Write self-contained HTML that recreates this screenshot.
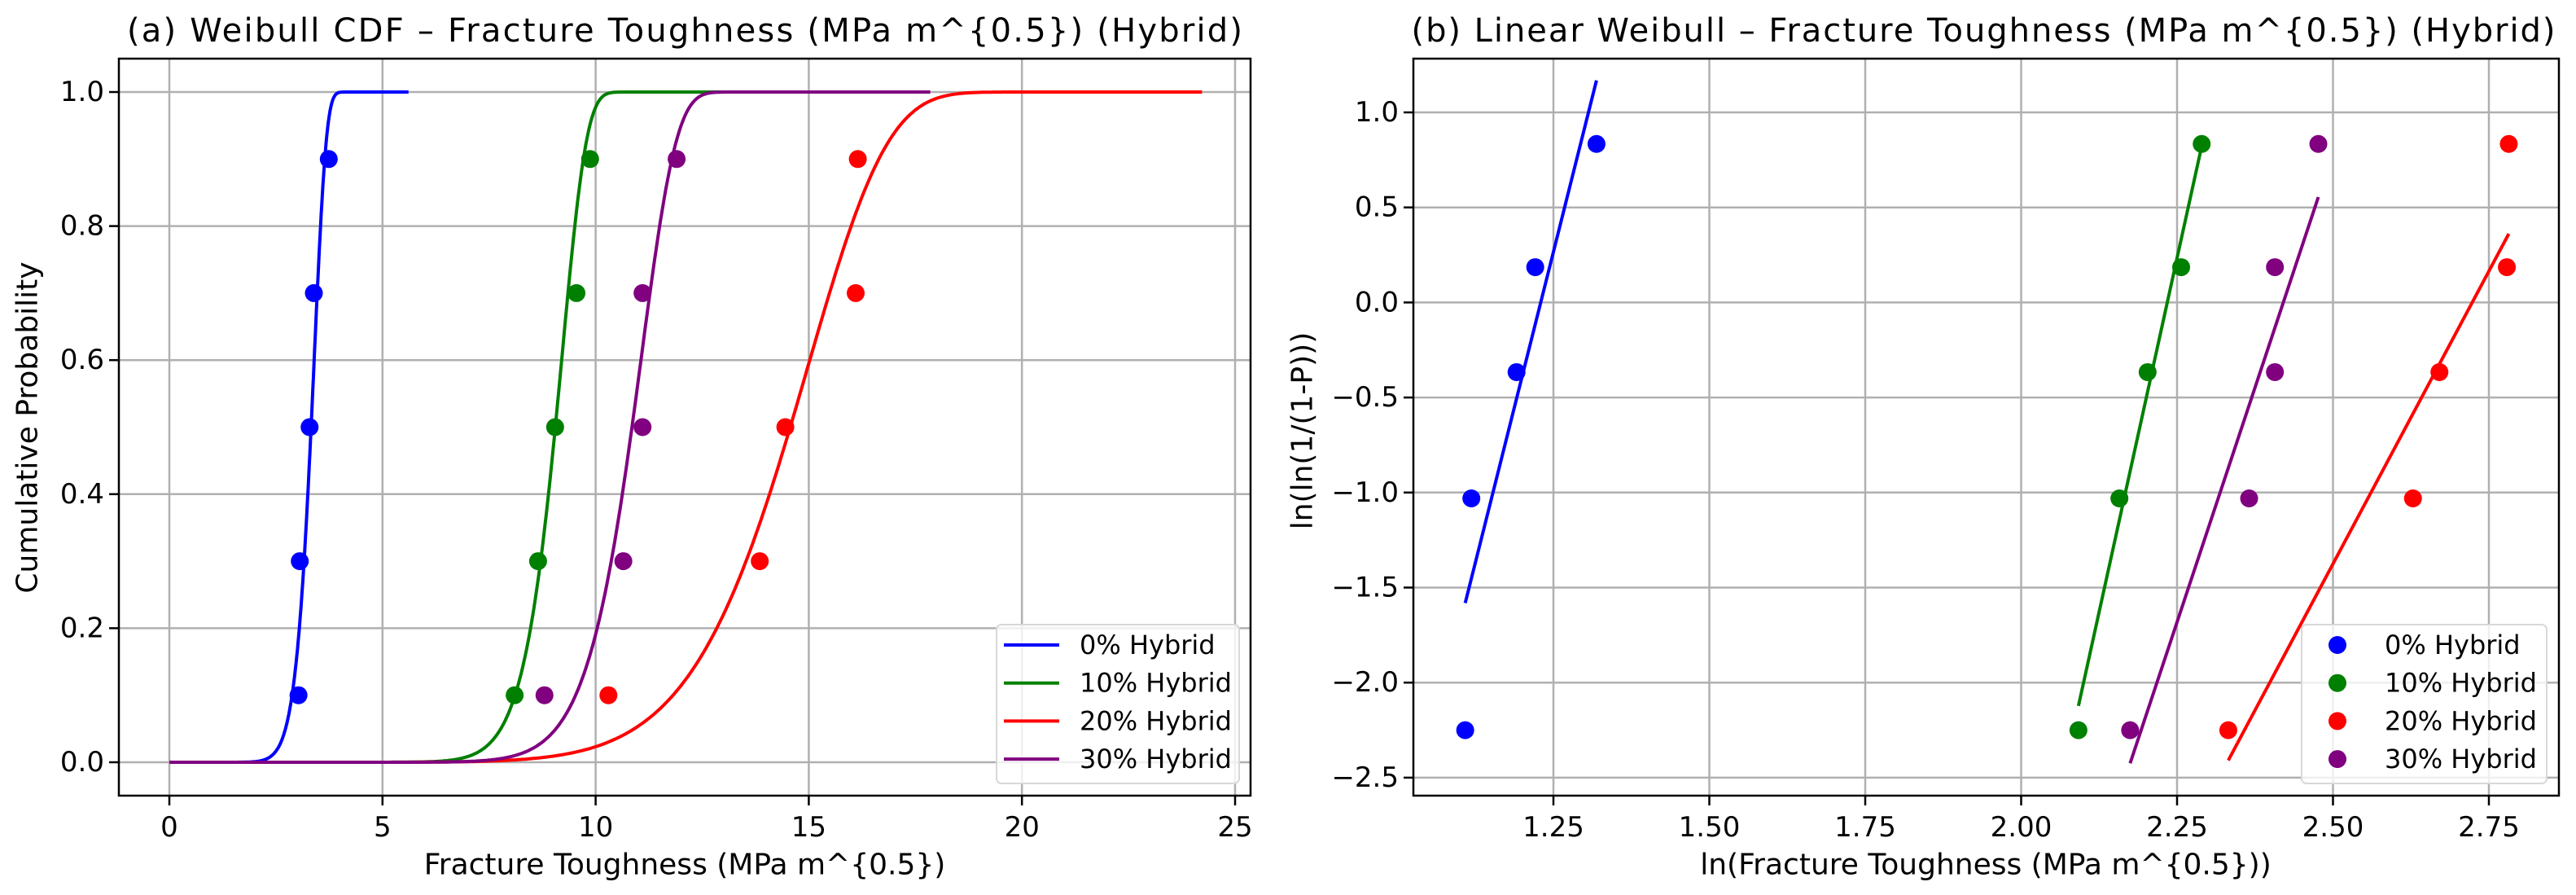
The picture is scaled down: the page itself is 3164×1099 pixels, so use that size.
<!DOCTYPE html>
<html><head><meta charset="utf-8"><style>
html,body{margin:0;padding:0;background:#fff;}
svg{display:block;font-family:"DejaVu Sans","Liberation Sans",sans-serif;}
</style></head><body>
<svg id="chart" width="3164" height="1099" viewBox="0 0 3164 1099" xmlns="http://www.w3.org/2000/svg"></svg>
<script>
// ----- data -----
const seriesNames = ["0% Hybrid","10% Hybrid","20% Hybrid","30% Hybrid"];
const seriesColors = ["#0000ff","#008000","#ff0000","#800080"];
const probLevels = [0.1,0.3,0.5,0.7,0.9];
const toughness0 = [3.03,3.06,3.29,3.39,3.74];
const toughness10 = [8.1,8.65,9.05,9.55,9.87];
const toughness20 = [10.3,13.85,14.45,16.1,16.15];
const toughness30 = [8.8,10.65,11.1,11.1,11.9];
// linear-regression fit (panel b)
const weibullShape = [13.06,14.9,6.16,9.87];
const weibullScale = [3.42,9.34,15.23,11.25];
// CDF fit (panel a)
const cdfShape = [13.06,17.1,9.0,14.5];
const cdfScale = [3.42,9.25,15.17,11.13];
const cdfXTicks = [0,5,10,15,20,25];
const cdfYTicks = [0.0,0.2,0.4,0.6,0.8,1.0];
const linXTicks = [1.25,1.50,1.75,2.00,2.25,2.50,2.75];
const linYTicks = [1.0,0.5,0.0,-0.5,-1.0,-1.5,-2.0,-2.5];
const toughnessSets = [toughness0,toughness10,toughness20,toughness30];

const NS="http://www.w3.org/2000/svg";
const svg=document.getElementById('chart');
function el(tag,attrs,parent){const e=document.createElementNS(NS,tag);for(const k in attrs)e.setAttribute(k,attrs[k]);(parent||svg).appendChild(e);return e;}
function txt(s,x,y,size,anchor,parent,rot){const t=el('text',{x:x,y:y,'font-size':size,'text-anchor':anchor||'middle','dominant-baseline':'central',fill:'#000'},parent);if(rot)t.setAttribute('transform','rotate(-90 '+x+' '+y+')');t.textContent=s;return t;}

// ----- axes functions -----
const A={L:146,R:1536,T:72,B:977};
const ax=v=>208+(v-0)*(1517-208)/25;
const ay=v=>936-(v-0)*(936-113);
const Bx={L:1736,R:3143,T:72,B:977};
const bx=v=>1908+(v-1.25)*766;
const by=v=>138+(1-v)*233.4;

// ===== Panel A =====
const gA=el('g',{});


cdfXTicks.forEach(v=>{const l=el('line',{x1:ax(v),x2:ax(v),y1:A.T,y2:A.B,stroke:'#b0b0b0','stroke-width':2.5},gA);
 el('line',{x1:ax(v),x2:ax(v),y1:A.B,y2:A.B+12,stroke:'#000','stroke-width':2.5},gA);
 const t=txt(String(v),ax(v),1016,34,'middle',gA);});
cdfYTicks.forEach(v=>{const l=el('line',{x1:A.L,x2:A.R,y1:ay(v),y2:ay(v),stroke:'#b0b0b0','stroke-width':2.5},gA);
 el('line',{x1:A.L-12,x2:A.L,y1:ay(v),y2:ay(v),stroke:'#000','stroke-width':2.5},gA);
 const t=txt(v.toFixed(1),A.L-18,ay(v),34,'end',gA);});
seriesNames.forEach((n,i)=>{
 const xmax=Math.max(...toughnessSets[i])*1.5;const pts=[];
 for(let k=0;k<=400;k++){const x=xmax*k/400;const F=1-Math.exp(-Math.pow(x/cdfScale[i],cdfShape[i]));pts.push(ax(x).toFixed(1)+','+ay(F).toFixed(1));}
 const p=el('polyline',{points:pts.join(' '),fill:'none',stroke:seriesColors[i],'stroke-width':4},gA);
 
 
});
seriesNames.forEach((n,i)=>{toughnessSets[i].forEach((x,j)=>{
 const c=el('circle',{cx:ax(x),cy:ay(probLevels[j]),r:11,fill:seriesColors[i]},gA);
 
 
});});
el('rect',{x:A.L,y:A.T,width:A.R-A.L,height:A.B-A.T,fill:'none',stroke:'#000','stroke-width':2.5},gA);
let t=txt('(a) Weibull CDF – Fracture Toughness (MPa m^{0.5}) (Hybrid)',841,38,40,'middle',gA);
t.setAttribute('textLength','1370');


t=txt('Fracture Toughness (MPa m^{0.5})',841,1062,36,'middle',gA);


t=txt('Cumulative Probability',34,525,36,'middle',gA,true);


// legend A
const lgA=el('g',{},gA);


el('rect',{x:1224,y:767,width:298,height:195,rx:6,fill:'#fff','fill-opacity':0.8,stroke:'#d8d8d8','stroke-width':2},lgA);
seriesNames.forEach((n,i)=>{const y=792+i*46.7;
 const l=el('line',{x1:1233,x2:1301,y1:y,y2:y,stroke:seriesColors[i],'stroke-width':4},lgA);
 
 
 txt(n,1326,y,32,'start',lgA);});

// ===== Panel B =====
const gB=el('g',{});


linXTicks.forEach(v=>{const l=el('line',{x1:bx(v),x2:bx(v),y1:Bx.T,y2:Bx.B,stroke:'#b0b0b0','stroke-width':2.5},gB);
 el('line',{x1:bx(v),x2:bx(v),y1:Bx.B,y2:Bx.B+12,stroke:'#000','stroke-width':2.5},gB);
 const t=txt(v.toFixed(2),bx(v),1016,34,'middle',gB);});
linYTicks.forEach(v=>{const l=el('line',{x1:Bx.L,x2:Bx.R,y1:by(v),y2:by(v),stroke:'#b0b0b0','stroke-width':2.5},gB);
 el('line',{x1:Bx.L-12,x2:Bx.L,y1:by(v),y2:by(v),stroke:'#000','stroke-width':2.5},gB);
 const t=txt(v.toFixed(1).replace('-','\u2212'),Bx.L-18,by(v),34,'end',gB);});
const yTr=probLevels.map(p=>Math.log(Math.log(1/(1-p))));
seriesNames.forEach((n,i)=>{
 const lx=toughnessSets[i].map(Math.log);const x0=Math.min(...lx),x1=Math.max(...lx);
 const f=x=>weibullShape[i]*(x-Math.log(weibullScale[i]));
 const l=el('line',{x1:bx(x0),y1:by(f(x0)),x2:bx(x1),y2:by(f(x1)),stroke:seriesColors[i],'stroke-width':4},gB);
 
 
 lx.forEach((x,j)=>{const c=el('circle',{cx:bx(x),cy:by(yTr[j]),r:11,fill:seriesColors[i]},gB);
  
  });
});
el('rect',{x:Bx.L,y:Bx.T,width:Bx.R-Bx.L,height:Bx.B-Bx.T,fill:'none',stroke:'#000','stroke-width':2.5},gB);
t=txt('(b) Linear Weibull – Fracture Toughness (MPa m^{0.5}) (Hybrid)',2436,38,40,'middle',gB);
t.setAttribute('textLength','1405');


t=txt('ln(Fracture Toughness (MPa m^{0.5}))',2439,1062,36,'middle',gB);


t=txt('ln(ln(1/(1-P)))',1600,529,36,'middle',gB,true);


const lgB=el('g',{},gB);


el('rect',{x:2827,y:767,width:301,height:195,rx:6,fill:'#fff','fill-opacity':0.8,stroke:'#d8d8d8','stroke-width':2},lgB);
seriesNames.forEach((n,i)=>{const y=792+i*46.7;
 const c=el('circle',{cx:2871,cy:y,r:11,fill:seriesColors[i]},lgB);
 
 
 txt(n,2929,y,32,'start',lgB);});
</script>
</body></html>
